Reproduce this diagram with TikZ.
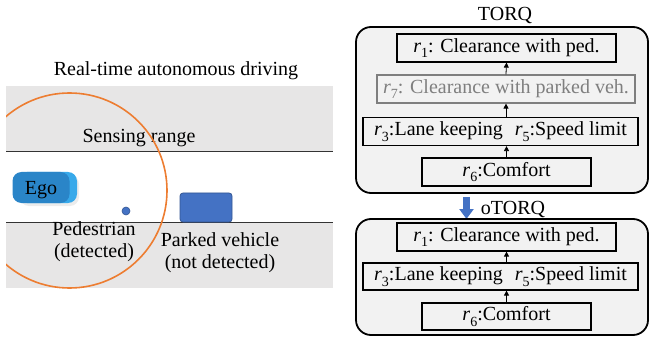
\documentclass[tikz,border=0pt]{standalone}
\usepackage{fontspec}
\setmainfont{LiberationSerif}[Extension=.ttf, UprightFont=*-Regular, ItalicFont=*-Italic, BoldFont=*-Bold, BoldItalicFont=*-BoldItalic]
\usetikzlibrary{arrows.meta,shadows}
\definecolor{roadgray}{HTML}{E7E6E6}
\definecolor{boxgray}{HTML}{F2F2F2}
\definecolor{orng}{HTML}{ED7D31}
\definecolor{blu}{HTML}{4472C4}
\definecolor{egodark}{HTML}{2A85C8}
\definecolor{egolight}{HTML}{38A9EA}
\definecolor{fadegray}{HTML}{7F7F7F}
\newcommand{\rsub}[1]{\textit{r}\raisebox{-0.28em}{\fontsize{14}{14}\selectfont #1}}
\begin{document}
\begin{tikzpicture}[x=1pt,y=-1pt,
  every node/.style={font=\fontsize{20}{24}\selectfont, inner sep=0pt},
  outerbox/.style={draw, line width=1.8pt, rounded corners=15pt, fill=boxgray, minimum width=292},
  rulebox/.style={draw, line width=1.2pt, minimum height=28},
  fadebox/.style={rulebox, draw=fadegray, text=fadegray},
  smallarr/.style={line width=0.8pt, -{Triangle[width=5pt,length=5pt]}},
  road/.style={fill=roadgray},
  roadline/.style={line width=1pt, draw=black!80}]
\useasboundingbox (0,0) rectangle (650,339);
% ---------- left panel ----------
\node[anchor=base] (title) at (176,76) {Real-time autonomous driving};
\fill[road] (6,86) rectangle (333,152);
\fill[road] (6,222) rectangle (333,288);
\coordinate (l1a) at (6,152); \coordinate (l1b) at (333,152);
\coordinate (l2a) at (6,222); \coordinate (l2b) at (333,222);
\draw[roadline] (l1a) -- (l1b);
\draw[roadline] (l2a) -- (l2b);
\node[anchor=base] (sens) at (139,143) {Sensing range};
\node[fill=egolight, rounded corners=9pt, minimum width=59, minimum height=31,
  drop shadow={opacity=0.15, shadow xshift=2pt, shadow yshift=-3pt}] (egoback) at (47.5,187.5) {};
\node[fill=egodark, rounded corners=9pt, minimum width=57, minimum height=31] (ego) at (41,187.5) {};
\node[anchor=base] (egotxt) at (41,195) {Ego};
\node[circle, fill=blu, draw=blu!75!black, line width=0.6pt, minimum size=8] (ped) at (126,211) {};
\node[rounded corners=3pt, fill=blu, draw=blu!75!black, line width=0.8pt, minimum width=52, minimum height=29] (veh) at (206,207.5) {};
\node[anchor=base] (pedl1) at (94,235) {Pedestrian};
\node[anchor=base] (pedl2) at (94,257) {(detected)};
\node[anchor=base] (vehl1) at (220,246) {Parked vehicle};
\node[anchor=base] (vehl2) at (220,268) {(not detected)};
\begin{scope}
  \clip (6,0) rectangle (340,339);
  \draw[orng, line width=1.6pt] (69.5,190.5) circle[radius=97.5];
\end{scope}
% ---------- right panel ----------
\node[anchor=base] (torqlbl) at (505,21) {TORQ};
\node[outerbox, minimum height=166] (torq) at (502,110) {};
\node[rulebox, minimum width=219] (a1) at (506.5,48) {\rsub{1}: Clearance with ped.};
\node[fadebox, minimum width=258] (a7) at (506,89) {\rsub{7}: Clearance with parked veh.};
\node[rulebox, minimum width=275] (a35) at (500.5,131.5) {\rsub{3}:Lane keeping\hspace{12pt}\rsub{5}:Speed limit};
\node[rulebox, minimum width=169] (a6) at (506.5,172) {\rsub{6}:Comfort};
\draw[smallarr] (a7.north) -- (a1.south);
\draw[smallarr] (a7.south |- a35.north) -- (a7.south);
\draw[smallarr] (a6.north) -- (a6.north |- a35.south);
\draw[blu, line width=7pt, shorten <=3pt, -{Triangle[width=14pt,length=10pt]}] (torq.south -| 466.5,0) -- (466.5,219);
\node[anchor=base] (otorqlbl) at (513,214) {oTORQ};
\node[outerbox, minimum height=116] (otorq) at (502,277) {};
\node[rulebox, minimum width=219] (b1) at (506.5,237) {\rsub{1}: Clearance with ped.};
\node[rulebox, minimum width=275, minimum height=27] (b35) at (500.5,276.5) {\rsub{3}:Lane keeping\hspace{12pt}\rsub{5}:Speed limit};
\node[rulebox, minimum width=169, minimum height=27] (b6) at (506.5,316.5) {\rsub{6}:Comfort};
\draw[smallarr] (b1.south |- b35.north) -- (b1.south);
\draw[smallarr] (b6.north) -- (b6.north |- b35.south);
\end{tikzpicture}
\end{document}
